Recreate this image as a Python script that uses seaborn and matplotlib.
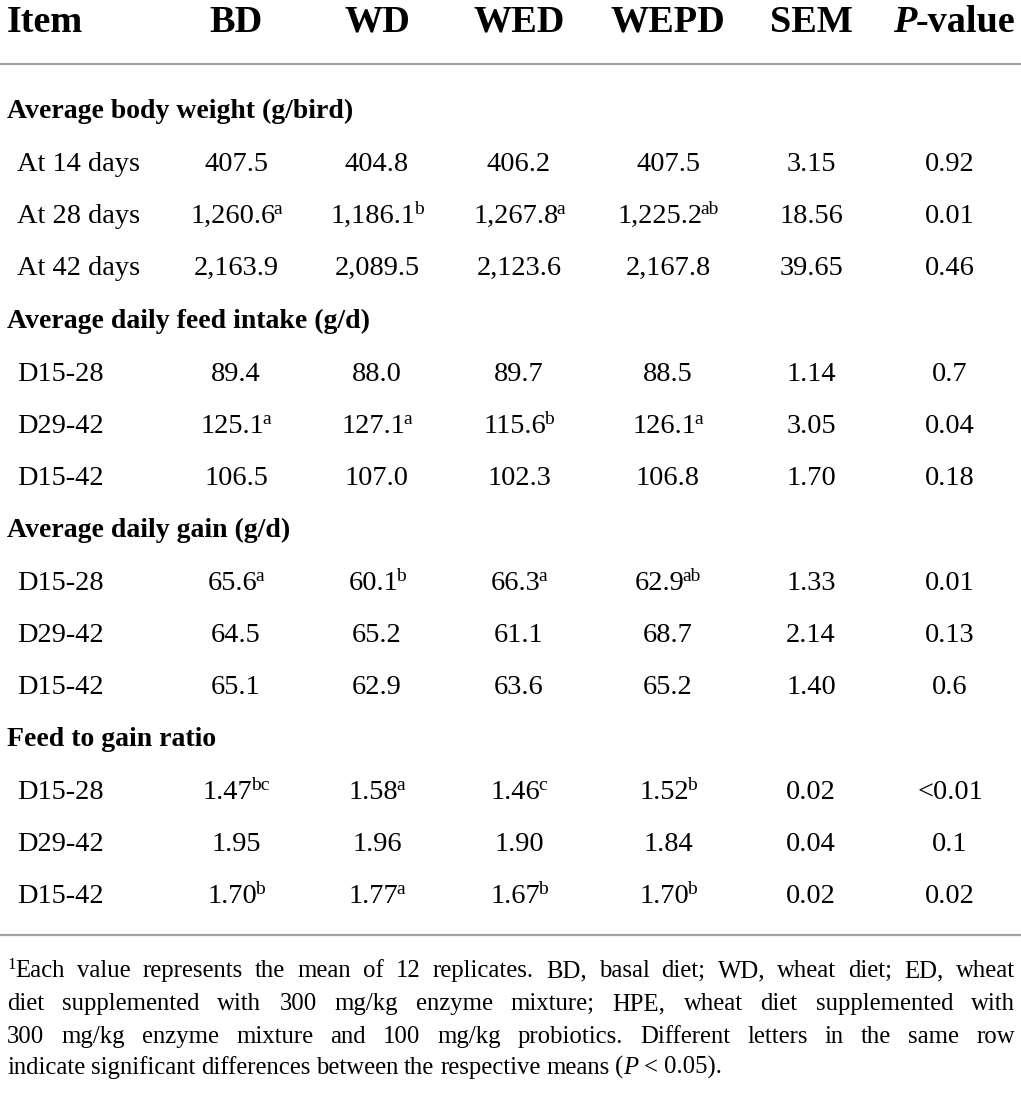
import numpy as np
import matplotlib
matplotlib.use("Agg")
import matplotlib.pyplot as plt
import seaborn as sns

# ---- table data ----
columns = ["BD", "WD", "WED", "WEPD", "SEM"]
groups = [
    "Average body weight (g/bird)",
    "Average daily feed intake (g/d)",
    "Average daily gain (g/d)",
    "Feed to gain ratio",
]
items = [
    ["At 14 days", "At 28 days", "At 42 days"],
    ["D15-28", "D29-42", "D15-42"],
    ["D15-28", "D29-42", "D15-42"],
    ["D15-28", "D29-42", "D15-42"],
]
bd = ["407.5", "1,260.6", "2,163.9", "89.4", "125.1", "106.5",
      "65.6", "64.5", "65.1", "1.47", "1.95", "1.70"]
bd_sup = ["", "a", "", "", "a", "", "a", "", "", "bc", "", "b"]
wd = ["404.8", "1,186.1", "2,089.5", "88.0", "127.1", "107.0",
      "60.1", "65.2", "62.9", "1.58", "1.96", "1.77"]
wd_sup = ["", "b", "", "", "a", "", "b", "", "", "a", "", "a"]
wed = ["406.2", "1,267.8", "2,123.6", "89.7", "115.6", "102.3",
       "66.3", "61.1", "63.6", "1.46", "1.90", "1.67"]
wed_sup = ["", "a", "", "", "b", "", "a", "", "", "c", "", "b"]
wepd = ["407.5", "1,225.2", "2,167.8", "88.5", "126.1", "106.8",
        "62.9", "68.7", "65.2", "1.52", "1.84", "1.70"]
wepd_sup = ["", "ab", "", "", "a", "", "ab", "", "", "b", "", "b"]
sem = ["3.15", "18.56", "39.65", "1.14", "3.05", "1.70",
       "1.33", "2.14", "1.40", "0.02", "0.04", "0.02"]
pvalue = ["0.92", "0.01", "0.46", "0.7", "0.04", "0.18",
          "0.01", "0.13", "0.6", "<0.01", "0.1", "0.02"]

footnote_lines = [
    "Each value represents the mean of 12 replicates. BD, basal diet; WD, wheat diet; ED, wheat",
    "diet supplemented with 300 mg/kg enzyme mixture; HPE, wheat diet supplemented with",
    "300 mg/kg enzyme mixture and 100 mg/kg probiotics. Different letters in the same row",
    "indicate significant differences between the respective means (P < 0.05).",
]

# ---- style ----
sns.set_theme(style="white")
serif = "Liberation Serif"
plt.rcParams["font.family"] = [serif, "DejaVu Serif"]
plt.rcParams["text.color"] = "black"

W, H = 1021, 1104
fig = plt.figure(figsize=(W / 100, H / 100), dpi=100)
ax = fig.add_axes([0, 0, 1, 1])
ax.set_xlim(0, W)
ax.set_ylim(H, 0)
ax.axis("off")
renderer = fig.canvas.get_renderer()


def draw_runs(x, y, runs, ha="left", tight=0.0):
    """runs: list of (text, fontsize, dy, extra kwargs); placed side by side on one baseline."""
    texts, widths = [], []
    for s, fs, dy, kw in runs:
        t = ax.text(0, y - dy, s, fontsize=fs, ha="left", va="baseline", **kw)
        texts.append(t)
        widths.append(t.get_window_extent(renderer=renderer).width)
    widths = [w - tight if i < len(widths) - 1 else w for i, w in enumerate(widths)]
    total = sum(widths)
    x0 = x - total / 2 if ha == "center" else x
    for t, w in zip(texts, widths):
        t.set_x(x0)
        x0 += w
    return total


col_x = [236, 377, 519, 668, 811]
p_x = 916
head_base = 32
rule_color = "#a0a0a0"
head_fs = 27.5
group_fs = 20.0
body_fs = 20.4
sup_fs = 14
sup_dy = 9

# header
ax.text(7, head_base, "Item", fontsize=head_fs, fontweight="bold", ha="left", va="baseline")
for cx, name in zip(col_x, columns):
    ax.text(cx, head_base, name, fontsize=head_fs, fontweight="bold", ha="center", va="baseline")
ax.text(p_x, head_base, "P", fontsize=head_fs, fontweight="bold", style="italic",
        ha="right", va="baseline")
ax.text(p_x, head_base, "-value", fontsize=head_fs, fontweight="bold", ha="left", va="baseline")

ax.plot([0, W], [63.5, 63.5], color=rule_color, lw=1.6)

# body (baselines)
group_base = [118, 328, 537, 746]
row_step = 52
value_cols = [(bd, bd_sup), (wd, wd_sup), (wed, wed_sup), (wepd, wepd_sup)]
k = 0
for gi, g in enumerate(groups):
    ax.text(7, group_base[gi], g, fontsize=group_fs, fontweight="bold", ha="left", va="baseline")
    for ri, item in enumerate(items[gi]):
        y = group_base[gi] + 1 + row_step * (ri + 1)
        ax.text(17, y, item, fontsize=body_fs, ha="left", va="baseline")
        for cx, (vals, sups) in zip(col_x[:4], value_cols):
            runs = [(vals[k], body_fs, 0, {})]
            if sups[k]:
                runs.append((sups[k], sup_fs, sup_dy, {}))
            draw_runs(cx, y, runs, ha="center", tight=2)
        ax.text(col_x[4], y, sem[k], fontsize=body_fs, ha="center", va="baseline")
        ax.text(950, y, pvalue[k], fontsize=body_fs, ha="center", va="baseline")
        k += 1

ax.plot([0, W], [934.5, 934.5], color=rule_color, lw=1.6)

# footnote, justified word by word
foot_fs = 17.8
left, right = 7, 1015
line_base = [977, 1010, 1043, 1074]
for li, line in enumerate(footnote_lines):
    words = line.split(" ")
    word_runs = []
    for wi, w in enumerate(words):
        if li == 0 and wi == 0:
            word_runs.append([("1", 12, 8, {}), (w, foot_fs, 0, {})])
        elif w == "(P":
            word_runs.append([("(", foot_fs, 0, {}), ("P", foot_fs, 0, {"style": "italic"})])
        else:
            word_runs.append([(w, foot_fs, 0, {})])
    widths = [draw_runs(0, line_base[li], r) for r in word_runs]
    # remove the provisional texts and place again with spacing
    n_new = sum(len(r) for r in word_runs)
    for t in ax.texts[-n_new:]:
        t.remove()
    if li == len(footnote_lines) - 1:
        gap = foot_fs * 0.32
    else:
        gap = (right - left - sum(widths)) / max(len(words) - 1, 1)
    x = left
    for r, w in zip(word_runs, widths):
        draw_runs(x, line_base[li], r)
        x += w + gap

fig.savefig("out.png", dpi=100)
